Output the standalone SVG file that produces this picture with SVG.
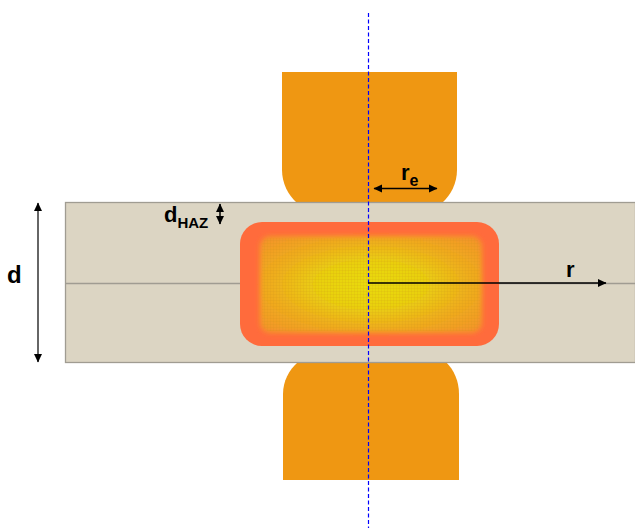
<svg xmlns="http://www.w3.org/2000/svg" width="635" height="528" viewBox="0 0 635 528">
<style>
.el{fill:#EF9712}
.lbl{font-family:"Liberation Sans",Arial,sans-serif;font-weight:bold;fill:#000}
.arr{stroke:#000;stroke-width:1.5;fill:none}
</style>
<defs>
<marker id="ah" markerUnits="userSpaceOnUse" markerWidth="9" markerHeight="9" refX="8" refY="4.5" orient="auto-start-reverse" viewBox="0 0 9 9"><path d="M0 0.5L8.5 4.5L0 8.5z" fill="#000"/></marker>
<radialGradient id="core" cx="50%" cy="50%" r="68%">
<stop offset="0" stop-color="#E9DB0C"/>
<stop offset="0.35" stop-color="#E9D010"/>
<stop offset="0.65" stop-color="#EFAE1C"/>
<stop offset="1" stop-color="#F4932A"/>
</radialGradient>
<pattern id="dither" width="3" height="3" patternUnits="userSpaceOnUse"><rect width="1" height="3" fill="#C98A1A" opacity="0.12"/><rect width="3" height="1" fill="#C98A1A" opacity="0.12"/></pattern>
<filter id="soft" x="-15%" y="-20%" width="130%" height="140%"><feGaussianBlur stdDeviation="2.500"/></filter>
</defs>
<g id="electrode-top"><path class="el" d="M282 72H457V170C457 183 451 195 442 203H297C288 195 282 183 282 170Z"/></g>
<g id="electrode-bottom"><path class="el" d="M298 362H446C454 370 459 381 459 394V480H283V394C283 381 289 370 298 362Z"/></g>
<g id="plate">
<rect x="65.500" y="202.500" width="570" height="160" fill="#DCD5C3" stroke="#A09C92" stroke-width="1.300"/>
<line x1="65" y1="283.500" x2="635" y2="283.500" stroke="#A09C92" stroke-width="1.300"/>
</g>
<g id="weld-nugget">
<rect x="240" y="222" width="259" height="124" rx="22" fill="#FF6B3C"/>
<rect x="260" y="236" width="222" height="97" rx="10" fill="url(#core)" filter="url(#soft)"/>
<rect x="262" y="238" width="218" height="93" rx="8" fill="url(#dither)"/>
</g>
<g id="connectors">
<line x1="368.500" y1="13" x2="368.500" y2="528" stroke="#0000FF" stroke-width="1.200" stroke-dasharray="4 2.500"/>
<line class="arr" x1="368" y1="283" x2="606" y2="283" stroke-width="1.700" marker-end="url(#ah)"/>
<line class="arr" x1="374" y1="188.500" x2="437" y2="188.500" marker-start="url(#ah)" marker-end="url(#ah)"/>
<line class="arr" x1="220" y1="204" x2="220" y2="224" marker-start="url(#ah)" marker-end="url(#ah)"/>
<line class="arr" style="stroke:#333" x1="38" y1="203" x2="38" y2="362" marker-start="url(#ah)" marker-end="url(#ah)"/>
</g>
<g id="labels">
<text class="lbl" x="7" y="283" font-size="24">d</text>
<text class="lbl" x="164" y="222" font-size="22">d<tspan font-size="15" dy="6">HAZ</tspan></text>
<text class="lbl" x="401" y="180" font-size="22">r<tspan font-size="16" dy="6">e</tspan></text>
<text class="lbl" x="566" y="277" font-size="22">r</text>
</g>
</svg>
